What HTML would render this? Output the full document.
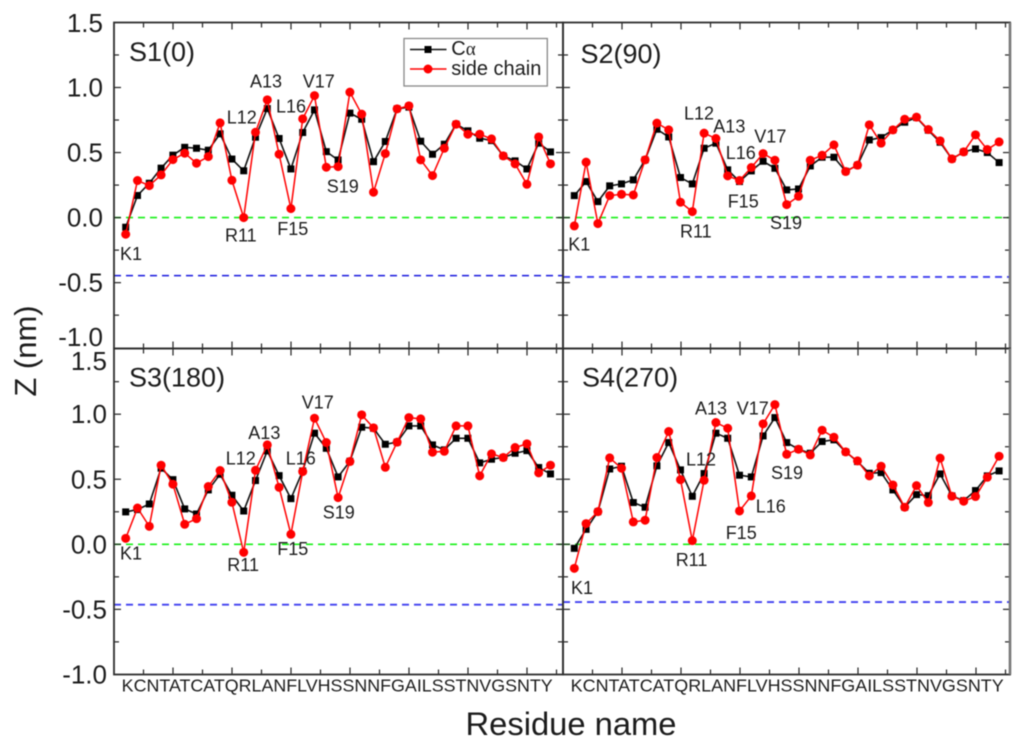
<!DOCTYPE html>
<html lang="en">
<head>
<meta charset="utf-8">
<title>Z position by residue</title>
<style>
html,body{margin:0;padding:0;background:#fff;width:1024px;height:748px;overflow:hidden}
svg{display:block;filter:blur(0.45px)}
text{font-family:"Liberation Sans",sans-serif;fill:#1c1c1c}
.note{font-size:18px}
.panel-title{font-size:27px}
</style>
</head>
<body>
<svg id="chart" xmlns="http://www.w3.org/2000/svg" width="1024" height="748" viewBox="0 0 1024 748">
  <rect x="0" y="0" width="1024" height="748" fill="#fff"/>
  <g id="panels"></g>

  <text transform="translate(36 351) rotate(-90)" text-anchor="middle" font-size="31">Z (nm)</text>
  <text x="465.5" y="735" font-size="32.7" textLength="211" lengthAdjust="spacingAndGlyphs">Residue name</text>

  <text class="panel-title" x="129" y="61">S1(0)</text>
  <text class="panel-title" x="580.5" y="63">S2(90)</text>
  <text class="panel-title" x="129" y="386.5">S3(180)</text>
  <text class="panel-title" x="582" y="386.5">S4(270)</text>

  <g>
    <text class="note" x="120" y="260">K1</text>
    <text class="note" x="225" y="241.5">R11</text>
    <text class="note" x="277.3" y="235">F15</text>
    <text class="note" x="226.7" y="123.3">L12</text>
    <text class="note" x="250" y="87.7">A13</text>
    <text class="note" x="276" y="112.3">L16</text>
    <text class="note" x="302.7" y="87.3">V17</text>
    <text class="note" x="326.7" y="192.7">S19</text>
  </g>
  <g>
    <text class="note" x="568.3" y="250.7">K1</text>
    <text class="note" x="680" y="237.3">R11</text>
    <text class="note" x="727.7" y="207.3">F15</text>
    <text class="note" x="684" y="119.3">L12</text>
    <text class="note" x="713.3" y="132.3">A13</text>
    <text class="note" x="725.7" y="159">L16</text>
    <text class="note" x="754.3" y="142.7">V17</text>
    <text class="note" x="770" y="229">S19</text>
  </g>
  <g>
    <text class="note" x="120" y="559.3">K1</text>
    <text class="note" x="227.3" y="571">R11</text>
    <text class="note" x="277.3" y="555">F15</text>
    <text class="note" x="225.7" y="464.3">L12</text>
    <text class="note" x="248.3" y="439">A13</text>
    <text class="note" x="285.7" y="464.3">L16</text>
    <text class="note" x="301.7" y="408.3">V17</text>
    <text class="note" x="322.7" y="518.3">S19</text>
  </g>
  <g>
    <text class="note" x="571" y="594">K1</text>
    <text class="note" x="675.7" y="566">R11</text>
    <text class="note" x="725.7" y="539">F15</text>
    <text class="note" x="686" y="465.7">L12</text>
    <text class="note" x="695" y="414.3">A13</text>
    <text class="note" x="755.7" y="512.3">L16</text>
    <text class="note" x="736.7" y="414.3">V17</text>
    <text class="note" x="771" y="479">S19</text>
  </g>

  <g>
    <rect x="404" y="38.5" width="143.3" height="47.5" fill="#fff" stroke="#888" stroke-width="1.3"/>
    <line x1="410" y1="49.5" x2="446.5" y2="49.5" stroke="#111" stroke-width="1.5"/>
    <rect x="424.5" y="46" width="7" height="7" fill="#000"/>
    <text x="451.3" y="55" font-size="20">C<tspan font-family="'Liberation Serif',serif" font-size="19">α</tspan></text>
    <line x1="410" y1="69" x2="446.5" y2="69" stroke="#f00" stroke-width="1.4"/>
    <circle cx="428" cy="69" r="4.5" fill="#f00"/>
    <text x="451.3" y="75" font-size="20">side chain</text>
  </g>
</svg>

<script>
const residues = ["K","C","N","T","A","T","C","A","T","Q","R","L","A","N","F","L","V","H","S","S","N","N","F","G","A","I","L","S","S","T","N","V","G","S","N","T","Y"];
const zTickValues = [1.5, 1.0, 0.5, 0.0, -0.5, -1.0];
const zTickLabels = ["1.5", "1.0", "0.5", "0.0", "-0.5", "-1.0"];
const zeroLevel = 0;

const s1CAlpha = [-0.074,0.17,0.264,0.38,0.48,0.54,0.533,0.518,0.644,0.45,0.36,0.618,0.838,0.608,0.374,0.654,0.828,0.507,0.443,0.803,0.756,0.43,0.585,0.836,0.849,0.587,0.487,0.564,0.718,0.667,0.61,0.592,0.474,0.436,0.374,0.572,0.505];
const s1SideChain = [-0.128,0.285,0.246,0.328,0.446,0.495,0.418,0.469,0.728,0.287,0,0.656,0.905,0.487,0.069,0.759,0.938,0.387,0.392,0.964,0.795,0.195,0.492,0.836,0.859,0.444,0.323,0.533,0.718,0.641,0.641,0.605,0.474,0.413,0.256,0.62,0.413];
const s1BlueLevel = -0.446;

const s2CAlpha = [0.169,0.277,0.123,0.244,0.259,0.29,0.444,0.679,0.62,0.308,0.259,0.533,0.572,0.367,0.277,0.359,0.433,0.379,0.213,0.22,0.397,0.464,0.464,0.356,0.403,0.597,0.615,0.674,0.733,0.769,0.672,0.579,0.451,0.505,0.528,0.5,0.423];
const s2SideChain = [-0.064,0.426,-0.046,0.169,0.179,0.174,0.444,0.726,0.674,0.118,0.046,0.649,0.608,0.321,0.285,0.385,0.492,0.441,0.1,0.164,0.441,0.479,0.559,0.354,0.403,0.713,0.572,0.674,0.756,0.772,0.677,0.59,0.451,0.505,0.636,0.523,0.582];
const s2BlueLevel = -0.456;

const s3CAlpha = [0.249,0.267,0.31,0.585,0.497,0.272,0.233,0.418,0.538,0.377,0.256,0.49,0.718,0.528,0.351,0.564,0.854,0.738,0.518,0.638,0.9,0.892,0.769,0.785,0.91,0.91,0.764,0.726,0.815,0.815,0.626,0.654,0.667,0.7,0.72,0.59,0.541];
const s3SideChain = [0.046,0.279,0.138,0.608,0.462,0.154,0.197,0.444,0.567,0.323,-0.062,0.569,0.764,0.438,0.077,0.559,0.969,0.782,0.359,0.636,0.995,0.895,0.592,0.785,0.974,0.964,0.708,0.715,0.91,0.91,0.526,0.695,0.667,0.744,0.772,0.549,0.608];
const s3BlueLevel = -0.464;

const s4CAlpha = [-0.031,0.115,0.251,0.579,0.6,0.321,0.285,0.603,0.782,0.572,0.369,0.544,0.854,0.815,0.531,0.518,0.833,0.974,0.782,0.731,0.7,0.79,0.803,0.71,0.636,0.546,0.551,0.418,0.285,0.382,0.374,0.541,0.372,0.336,0.413,0.526,0.564];
const s4SideChain = [-0.185,0.159,0.251,0.664,0.585,0.172,0.185,0.667,0.867,0.497,0.028,0.492,0.936,0.892,0.256,0.372,0.926,1.074,0.692,0.731,0.687,0.877,0.823,0.71,0.641,0.526,0.6,0.456,0.285,0.451,0.321,0.662,0.369,0.331,0.367,0.515,0.677];
const s4BlueLevel = -0.444;

const panels = [
  {id:"s1", left:114, right:563, top:22.5, bottom:348.5, zero:217.6, firstX:125.7, ca:s1CAlpha, sc:s1SideChain, blue:s1BlueLevel, blueColor:"#1818dd", blueWidth:1.4, showY:true, labelEnd:103, labelTop:32, labelBottom:346},
  {id:"s2", left:563, right:1010, top:22.5, bottom:348.5, zero:217.6, firstX:574.3, ca:s2CAlpha, sc:s2SideChain, blue:s2BlueLevel, blueColor:"#4040f0", blueWidth:1.8, showY:false},
  {id:"s3", left:114, right:563, top:348.5, bottom:674.5, zero:544.3, firstX:125.7, ca:s3CAlpha, sc:s3SideChain, blue:s3BlueLevel, blueColor:"#4040f0", blueWidth:1.8, showY:true, labelEnd:107, labelTop:370, labelBottom:685},
  {id:"s4", left:563, right:1010, top:348.5, bottom:674.5, zero:544.3, firstX:574.3, ca:s4CAlpha, sc:s4SideChain, blue:s4BlueLevel, blueColor:"#4040f0", blueWidth:1.8, showY:false}
];

const SVGNS = "http://www.w3.org/2000/svg";
const root = document.getElementById("panels");

function make(parent, tag, attrs) {
  const el = document.createElementNS(SVGNS, tag);
  for (const k in attrs) el.setAttribute(k, attrs[k]);
  parent.appendChild(el);
  return el;
}
function xScale(p, i) { return p.firstX + 11.8 * i; }
function yScale(p, v) { return p.zero - 130.1 * v; }
function pathFor(p, values) {
  return values.map(function (v, i) {
    return (i ? "L" : "M") + xScale(p, i).toFixed(2) + " " + yScale(p, v).toFixed(2);
  }).join(" ");
}

panels.forEach(function (p) {
  const g = make(root, "g", {});
  
  

  const green = make(g, "line", {x1:p.left, x2:p.right, y1:yScale(p, zeroLevel), y2:yScale(p, zeroLevel), stroke:"#18f018", "stroke-width":1.6, "stroke-dasharray":"7 5"});
  
  

  const blue = make(g, "line", {x1:p.left, x2:p.right, y1:yScale(p, p.blue), y2:yScale(p, p.blue), stroke:p.blueColor, "stroke-width":p.blueWidth, "stroke-dasharray":"7 5"});
  
  

  /* x ticks on bottom and top edges */
  for (let k = 1; k <= 15; k++) {
    const tx = p.left + 29.5 * k;
    const len = k % 2 === 0 ? 7 : 5;
    const bottomTick = make(g, "line", {x1:tx, x2:tx, y1:p.bottom, y2:p.bottom - len, stroke:"#222", "stroke-width":1.2});
    
    
    const topTick = make(g, "line", {x1:tx, x2:tx, y1:p.top, y2:p.top + len, stroke:"#222", "stroke-width":1.2});
    
    
  }

  /* y ticks on left and right edges */
  for (let m = 1; m <= 9; m++) {
    const v = 1.5 - 0.25 * m;
    const ty = yScale(p, v);
    const len = m % 2 === 0 ? 7 : 5;
    const leftTick = make(g, "line", {x1:p.left, x2:p.left + len, y1:ty, y2:ty, stroke:"#222", "stroke-width":1.2});
    
    
    const rightTick = make(g, "line", {x1:p.right, x2:p.right - len, y1:ty, y2:ty, stroke:"#222", "stroke-width":1.2});
    
    
  }

  /* frame */
  const frame = make(g, "rect", {x:p.left, y:p.top, width:p.right - p.left, height:p.bottom - p.top, fill:"none", stroke:"#2e2e2e", "stroke-width":1.8});
  
  

  /* lighter, heavier outer right edge */
  if (p.right > 1000) {
    const edge = make(g, "line", {x1:p.right, x2:p.right, y1:p.top, y2:p.bottom, stroke:"#777", "stroke-width":2.6});
    
    
  }

  /* y tick labels */
  if (p.showY) {
    zTickValues.forEach(function (v, idx) {
      const base = Math.min(p.labelBottom, Math.max(p.labelTop, yScale(p, v) + 9));
      const t = make(g, "text", {x:p.labelEnd, y:base, "text-anchor":"end", "font-size":26});
      t.textContent = zTickLabels[idx];
      
      
    });
  }

  /* residue sequence under lower panels */
  if (p.bottom > 600) {
    const seq = make(g, "text", {x:p.left + 7.7, y:691.5, "font-size":17.6, textLength:p.left < 500 ? 431 : 433, lengthAdjust:"spacingAndGlyphs"});
    seq.textContent = residues.join("");
    
    
  }

  /* series: C-alpha */
  const caLine = make(g, "path", {d:pathFor(p, p.ca), fill:"none", stroke:"#111", "stroke-width":1.6, "stroke-linejoin":"round"});
  
  
  p.ca.forEach(function (v, i) {
    const sq = make(g, "rect", {x:xScale(p, i) - 3.5, y:yScale(p, v) - 3.5, width:7, height:7, fill:"#000"});
    
    
  });

  /* series: side chain */
  const scLine = make(g, "path", {d:pathFor(p, p.sc), fill:"none", stroke:"#f00", "stroke-width":1.5, "stroke-linejoin":"round"});
  
  
  p.sc.forEach(function (v, i) {
    const c = make(g, "circle", {cx:xScale(p, i), cy:yScale(p, v), r:4.5, fill:"#f00"});
    
    
  });
});
</script>
</body>
</html>
